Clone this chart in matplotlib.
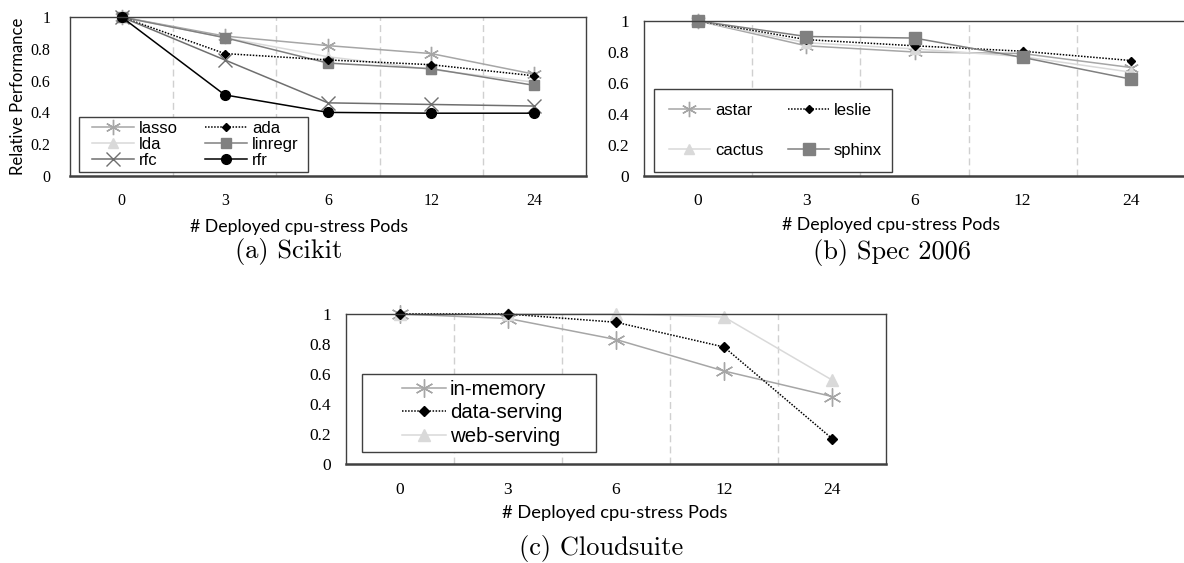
import matplotlib
matplotlib.use("Agg")
import matplotlib.pyplot as plt
from matplotlib.patches import Rectangle
import numpy as np

# x categories (number of deployed cpu-stress pods)
pods = ["0", "3", "6", "12", "24"]

# (a) Scikit
lasso = [1, 0.88, 0.82, 0.77, 0.64]
lda = [1, 0.87, 0.75, 0.67, 0.59]
rfc = [1, 0.73, 0.46, 0.45, 0.44]
ada = [1, 0.77, 0.73, 0.70, 0.63]
linregr = [1, 0.87, 0.71, 0.675, 0.57]
rfr = [1, 0.51, 0.40, 0.395, 0.395]

# (b) Spec 2006
astar = [1, 0.84, 0.80, 0.79, 0.70]
leslie = [1, 0.88, 0.84, 0.805, 0.745]
cactus = [1, 0.86, 0.82, 0.77, 0.67]
sphinx = [1, 0.90, 0.89, 0.765, 0.625]

# (c) Cloudsuite
in_memory = [1, 0.97, 0.83, 0.62, 0.45]
data_serving = [1, 1, 0.945, 0.78, 0.17]
web_serving = [1, 1, 1, 0.98, 0.56]

W, H = 1184, 563
fig = plt.figure(figsize=(W / 100, H / 100), dpi=100)

LIGHT = "#d9d9d9"
MID = "#a6a6a6"
GREY = "#808080"
DARK = "#6f6f6f"
SANS = ["Liberation Sans", "DejaVu Sans"]
LABEL_FONT = ["Lato", "DejaVu Sans"]
TICK_FONT = ["Liberation Serif", "DejaVu Serif"]
ASTER = (6, 2, 0)


def make_axes(l, t, r, b, ypad, xpad, tsize):
    ax = fig.add_axes([l / W, 1 - b / H, (r - l) / W, (b - t) / H])
    x = np.arange(len(pods))
    ax.set_xlim(-0.5, len(pods) - 0.5)
    ax.set_ylim(0, 1)
    ax.set_xticks(x)
    ax.set_xticklabels(pods, fontfamily=TICK_FONT, fontsize=tsize)
    ax.set_yticks([0, 0.2, 0.4, 0.6, 0.8, 1])
    ax.set_yticklabels(["0", "0.2", "0.4", "0.6", "0.8", "1"], fontfamily=TICK_FONT, fontsize=tsize)
    ax.set_xticks(x[:-1] + 0.5, minor=True)
    ax.tick_params(which="both", length=0)
    ax.tick_params(axis="x", pad=xpad)
    ax.tick_params(axis="y", pad=ypad)
    ax.grid(True, which="minor", axis="x", color="#d0d0d0", linestyle=(0, (5, 3)), linewidth=1)
    for s in ax.spines.values():
        s.set_color("#404040")
        s.set_linewidth(1)
    ax.spines["bottom"].set_linewidth(1.8)
    return ax, x


def line(ax, x, y, color, marker, ms, ls="-", label=None):
    return ax.plot(x, y, color=color, linestyle=ls, linewidth=1.1, marker=marker,
                   markersize=ms, markerfacecolor=color, markeredgecolor=color,
                   markeredgewidth=1.0, label=label, clip_on=False)[0]


def boxed_legend(handles, labels, box, hx, ncol, size, lspace, cspace, hlen, hpad):
    l, t, r, b = box
    fig.add_artist(Rectangle((l / W, 1 - b / H), (r - l) / W, (b - t) / H,
                             transform=fig.transFigure, facecolor="white",
                             edgecolor="#404040", linewidth=1, zorder=2))
    leg = fig.legend(handles, labels, ncol=ncol, loc="center left",
                     bbox_to_anchor=(hx / W, 1 - (t + b) / 2 / H), bbox_transform=fig.transFigure,
                     prop={"family": SANS, "size": size}, labelspacing=lspace,
                     columnspacing=cspace, handlelength=hlen, handletextpad=hpad,
                     borderpad=0, borderaxespad=0, frameon=False)
    leg.set_zorder(3)
    return leg


# ---- (a) Scikit
ax1, x = make_axes(70, 17, 586, 176, 14, 12, 11.5)
h_lasso = line(ax1, x, lasso, MID, ASTER, 11, label="lasso")
h_lda = line(ax1, x, lda, LIGHT, "^", 7, label="lda")
h_linregr = line(ax1, x, linregr, GREY, "s", 7, label="linregr")
h_ada = line(ax1, x, ada, "black", "D", 4.5, ls=(0, (1, 1)), label="ada")
h_rfc = line(ax1, x, rfc, DARK, "x", 10, label="rfc")
h_rfr = line(ax1, x, rfr, "black", "o", 7, label="rfr")
boxed_legend([h_lasso, h_lda, h_rfc, h_ada, h_linregr, h_rfr],
             ["lasso", "lda", "rfc", "ada", "linregr", "rfr"],
             (79, 117, 308, 172), 92, 2, 12, 0.08, 1.65, 2.5, 0.3)
fig.text(18 / W, 1 - 96 / H, "Relative Performance", rotation=90, ha="center", va="center",
         fontfamily=LABEL_FONT, fontsize=12)
fig.text(299 / W, 1 - 227 / H, "# Deployed cpu-stress Pods", ha="center", va="center",
         fontfamily=LABEL_FONT, fontsize=12.8)
fig.text(289 / W, 1 - 252 / H, "(a) Scikit", ha="center", va="center",
         fontfamily="cmr10", fontsize=19)

# ---- (b) Spec 2006
ax2, x = make_axes(644, 21, 1185, 176, 11, 12, 12.5)
h_astar = line(ax2, x, astar, MID, ASTER, 11, label="astar")
h_cactus = line(ax2, x, cactus, LIGHT, "^", 7, label="cactus")
h_leslie = line(ax2, x, leslie, "black", "D", 4.5, ls=(0, (1, 1)), label="leslie")
h_sphinx = line(ax2, x, sphinx, GREY, "s", 8, label="sphinx")
boxed_legend([h_astar, h_cactus, h_leslie, h_sphinx],
             ["astar", "cactus", "leslie", "sphinx"],
             (654, 89, 892, 172), 669, 2, 12, 1.52, 1.5, 2.45, 0.3)
fig.text(891 / W, 1 - 225 / H, "# Deployed cpu-stress Pods", ha="center", va="center",
         fontfamily=LABEL_FONT, fontsize=12.8)
fig.text(892 / W, 1 - 253 / H, "(b) Spec 2006", ha="center", va="center",
         fontfamily="cmr10", fontsize=19)

# ---- (c) Cloudsuite
ax3, x = make_axes(346, 314, 886, 464, 11, 13, 12.5)
h_mem = line(ax3, x, in_memory, MID, ASTER, 13, label="in-memory")
h_web = line(ax3, x, web_serving, LIGHT, "^", 8, label="web-serving")
h_data = line(ax3, x, data_serving, "black", "D", 5, ls=(0, (1, 1)), label="data-serving")
boxed_legend([h_mem, h_data, h_web], ["in-memory", "data-serving", "web-serving"],
             (362, 374, 596, 452), 402, 1, 14.7, 0.22, 1.0, 2.15, 0.2)
fig.text(615 / W, 1 - 513 / H, "# Deployed cpu-stress Pods", ha="center", va="center",
         fontfamily=LABEL_FONT, fontsize=13.2)
fig.text(601 / W, 1 - 548 / H, "(c) Cloudsuite", ha="center", va="center",
         fontfamily="cmr10", fontsize=19)

fig.savefig("out.png", dpi=100)
